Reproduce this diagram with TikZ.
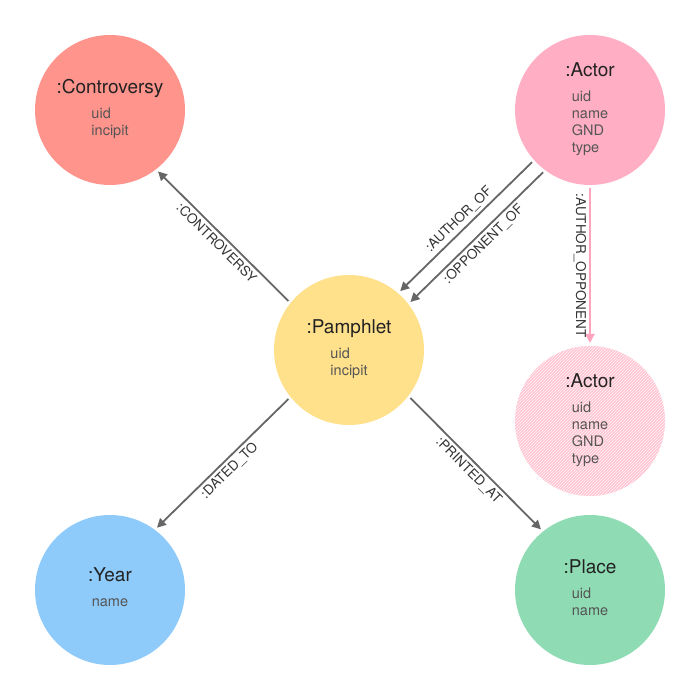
\documentclass[tikz,border=0pt]{standalone}
\usepackage{fontspec}
\setmainfont{TeX Gyre Heros}
\usetikzlibrary{arrows.meta,patterns}
\definecolor{controversyfill}{HTML}{FF948C}
\definecolor{actorfill}{HTML}{FFAEC4}
\definecolor{actorlight}{HTML}{FFC4D3}
\definecolor{pamphletfill}{HTML}{FFE08B}
\definecolor{yearfill}{HTML}{8ECBFB}
\definecolor{placefill}{HTML}{8FDCB4}
\definecolor{edgegray}{HTML}{666666}
\definecolor{pinkedge}{HTML}{FFA3BE}
\definecolor{titlegray}{HTML}{222222}
\definecolor{propgray}{HTML}{555555}
\definecolor{labelgray}{HTML}{333333}
\newcommand{\enttitle}[1]{{\fontsize{19}{22}\selectfont\color{titlegray}#1}}
\newcommand{\entprops}[1]{{\color{propgray}\begin{tabular}[t]{@{}l@{}}#1\end{tabular}}}
\begin{document}
\begin{tikzpicture}[x=1pt,y=1pt,
    ent/.style={circle, minimum size=150pt, inner sep=0pt, outer sep=3pt,
        align=center, font=\fontsize{14.5}{17}\selectfont},
    rel/.style={draw=edgegray, line width=1.8pt, -{Triangle[length=9pt,width=9pt]}},
    lbl/.style={font=\fontsize{13.5}{15}\selectfont, text=labelgray, inner sep=3pt, sloped}]
    \useasboundingbox (0,0) rectangle (700,700);
    \node[ent, fill=controversyfill] (con) at (110,590) {\enttitle{:Controversy}\\[8pt]\entprops{uid\\incipit}};
    \node[ent, fill=actorfill] (act) at (590,590) {\enttitle{:Actor}\\[8pt]\entprops{uid\\name\\GND\\type}};
    \node[ent, fill=pamphletfill] (pam) at (349,350) {\enttitle{:Pamphlet}\\[8pt]\entprops{uid\\incipit}};
    \node[ent, fill=actorlight, postaction={pattern=north east lines, pattern color=white!85!actorlight}] (act2) at (590,279) {\enttitle{:Actor}\\[8pt]\entprops{uid\\name\\GND\\type}};
    \node[ent, fill=yearfill] (year) at (110,110) {\enttitle{:Year}\\[8pt]\entprops{name}};
    \node[ent, fill=placefill] (place) at (590,110) {\enttitle{:Place}\\[8pt]\entprops{uid\\name}};
    \draw[rel] (pam.141) -- node[lbl, below] {:CONTROVERSY} (con.-52);
    \draw[rel] (act.222) -- node[lbl, above] {:AUTHOR\_OF} (pam.49);
    \draw[rel] (act.233) -- node[lbl, below] {:OPPONENT\_OF} (pam.38);
    \draw[rel, draw=pinkedge] (act.-90) -- node[lbl, below] {:AUTHOR\_OPPONENT} (act2.90);
    \draw[rel] (pam.219) -- node[lbl, below] {:DATED\_TO} (year.53);
    \draw[rel] (pam.-38) -- node[lbl, below] {:PRINTED\_AT} (place.129);
\end{tikzpicture}
\end{document}
